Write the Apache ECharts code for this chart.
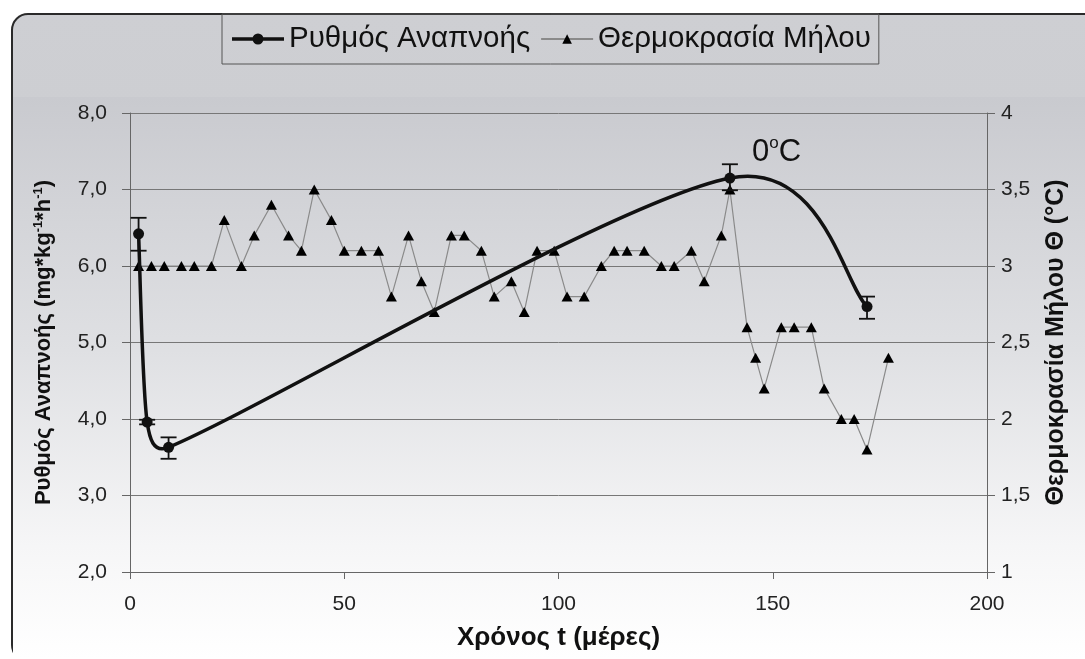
<!DOCTYPE html>
<html>
<head>
<meta charset="utf-8">
<script src="https://cdn.jsdelivr.net/npm/echarts@6/dist/echarts.min.js"></script>
<style>
  html, body { margin: 0; padding: 0; background: #ffffff; }
  #chart { width: 1085px; height: 659px; }
</style>
</head>
<body>
<div id="chart"></div>
<script>
// Respiration rate of apples (left axis), with standard-error bars
const respDays = [2, 4, 9, 140, 172];
const respRate = [6.42, 3.96, 3.63, 7.15, 5.47];
const respLow = [6.20, 3.93, 3.48, 6.99, 5.31];
const respHigh = [6.63, 3.99, 3.76, 7.33, 5.60];

// Apple flesh temperature (right axis)
const tempDays = [2, 5, 8, 12, 15, 19, 22, 26, 29, 33, 37, 40, 43, 47, 50, 54, 58, 61, 65, 68,
  71, 75, 78, 82, 85, 89, 92, 95, 99, 102, 106, 110, 113, 116, 120, 124, 127, 131, 134, 138,
  140, 144, 146, 148, 152, 155, 159, 162, 166, 169, 172, 177];
const tempValues = [3.0, 3.0, 3.0, 3.0, 3.0, 3.0, 3.3, 3.0, 3.2, 3.4, 3.2, 3.1, 3.5, 3.3, 3.1, 3.1, 3.1, 2.8, 3.2, 2.9,
  2.7, 3.2, 3.2, 3.1, 2.8, 2.9, 2.7, 3.1, 3.1, 2.8, 2.8, 3.0, 3.1, 3.1, 3.1, 3.0, 3.0, 3.1, 2.9, 3.2,
  3.5, 2.6, 2.4, 2.2, 2.6, 2.6, 2.6, 2.2, 2.0, 2.0, 1.8, 2.4];

const xTicks = [0, 50, 100, 150, 200];
const leftTicks = [2, 3, 4, 5, 6, 7, 8];
const rightTicks = [1, 1.5, 2, 2.5, 3, 3.5, 4];

const FONT = '"Liberation Sans", Arial, sans-serif';

const respSeriesData = respDays.map((d, i) => [d, respRate[i]]);
const errData = respDays.map((d, i) => [d, respLow[i], respHigh[i]]);
const tempSeriesData = tempDays.map((d, i) => [d, tempValues[i]]);

// Spreadsheet-style smoothed segment: tangent at each point follows its neighbours,
// control arms are 1/6 of the neighbour span, capped at half of the segment length.
function controlArm(a, b, segLen) {
  let dx = (b[0] - a[0]) / 6, dy = (b[1] - a[1]) / 6;
  const len = Math.hypot(dx, dy);
  const cap = segLen / 2;
  if (len > cap && len > 0) { dx *= cap / len; dy *= cap / len; }
  return [dx, dy];
}

function renderSmoothSegment(params, api) {
  const i = params.dataIndex;
  const n = respDays.length;
  if (i >= n - 1) return null;
  const clampIdx = k => Math.max(0, Math.min(n - 1, k));
  const pt = k => api.coord([respDays[clampIdx(k)], respRate[clampIdx(k)]]);
  const p0 = pt(i - 1), p1 = pt(i), p2 = pt(i + 1), p3 = pt(i + 2);
  const segLen = Math.hypot(p2[0] - p1[0], p2[1] - p1[1]);
  const a1 = controlArm(p0, p2, segLen);
  const a2 = controlArm(p1, p3, segLen);
  return {
    type: 'bezierCurve',
    shape: {
      x1: p1[0], y1: p1[1],
      cpx1: p1[0] + a1[0], cpy1: p1[1] + a1[1],
      cpx2: p2[0] - a2[0], cpy2: p2[1] - a2[1],
      x2: p2[0], y2: p2[1]
    },
    style: { stroke: '#111', lineWidth: 3.5, fill: null, lineCap: 'round' }
  };
}

const chart = echarts.init(document.getElementById('chart'), null, { renderer: 'canvas' });

const option = {
  backgroundColor: '#ffffff',
  animation: false,
  graphic: [
    {
      type: 'rect',
      z: -10,
      shape: { x: 12, y: 14, width: 1100, height: 647, r: 16 },
      style: {
        fill: new echarts.graphic.LinearGradient(0, 0, 0, 1, [
          { offset: 0, color: '#cecfd3' },
          { offset: 0.14, color: '#cdced2' },
          { offset: 1, color: '#ffffff' }
        ]),
        stroke: '#2a2a2a',
        lineWidth: 2
      }
    },
    {
      type: 'rect',
      z: -9,
      shape: { x: 13, y: 97, width: 1080, height: 562 },
      style: {
        fill: new echarts.graphic.LinearGradient(0, 0, 0, 1, [
          { offset: 0, color: '#c9cacf' },
          { offset: 0.45, color: '#dfe0e3' },
          { offset: 0.8, color: '#f6f6f7' },
          { offset: 1, color: '#ffffff' }
        ]),
        lineWidth: 0
      }
    },
    {
      type: 'text',
      left: 752,
      top: 135,
      style: {
        text: '{n|0}{o|o}{n|C}',
        rich: {
          n: { fontSize: 31, fontFamily: FONT, fill: '#111', lineHeight: 34 },
          o: { fontSize: 17, fontFamily: FONT, fill: '#111', lineHeight: 14, verticalAlign: 'top' }
        }
      }
    }
  ],
  legend: {
    data: [
      { name: 'Ρυθμός Αναπνοής',
        icon: 'path://M0,5 L52,5 L52,8.5 L0,8.5 Z M20.5,6.75 A5.5,5.5 0 1 1 31.5,6.75 A5.5,5.5 0 1 1 20.5,6.75 Z' },
      { name: 'Θερμοκρασία Μήλου' }
    ],
    left: 222,
    top: 14,
    itemWidth: 52,
    itemHeight: 12,
    itemGap: 10,
    padding: [10, 8, 10, 10],
    borderColor: '#555',
    borderWidth: 1,
    backgroundColor: 'transparent',
    textStyle: { fontSize: 29.5, fontFamily: FONT, color: '#111' }
  },
  grid: { left: 130, right: 98, top: 113, bottom: 87 },
  xAxis: {
    type: 'value',
    min: 0,
    max: 200,
    interval: 50,
    name: 'Χρόνος t (μέρες)',
    nameLocation: 'middle',
    nameGap: 53,
    nameTextStyle: { fontSize: 26, fontWeight: 'bold', fontFamily: FONT, color: '#111' },
    axisLine: { show: true, lineStyle: { color: '#666', width: 1 } },
    axisTick: { show: true, length: 7, lineStyle: { color: '#666' } },
    axisLabel: { margin: 22, fontSize: 21, fontFamily: FONT, color: '#222',
      formatter: v => xTicks.includes(v) ? String(v) : '' },
    splitLine: { show: false }
  },
  yAxis: [
    {
      type: 'value',
      position: 'left',
      min: 2,
      max: 8,
      interval: 1,
      name: '{a|Ρυθμός Αναπνοής (mg*kg}{s|-1}{a|*h}{s|-1}{a|)}',
      nameLocation: 'middle',
      nameRotate: 90,
      nameGap: 74,
      nameTextStyle: {
        rich: {
          a: { fontSize: 22, fontWeight: 'bold', fontFamily: FONT, color: '#111', lineHeight: 24 },
          s: { fontSize: 13, fontWeight: 'bold', fontFamily: FONT, color: '#111', lineHeight: 10, verticalAlign: 'top' }
        }
      },
      axisLine: { show: true, lineStyle: { color: '#666', width: 1 } },
      axisTick: { show: true, length: 8, lineStyle: { color: '#666' } },
      axisLabel: { margin: 23, fontSize: 21, fontFamily: FONT, color: '#222',
        formatter: v => leftTicks.includes(v) ? v.toFixed(1).replace('.', ',') : '' },
      splitLine: { show: true, lineStyle: { color: '#777', width: 1 } }
    },
    {
      type: 'value',
      position: 'right',
      min: 1,
      max: 4,
      interval: 0.5,
      name: 'Θερμοκρασία Μήλου Θ (°C)',
      nameLocation: 'middle',
      nameRotate: 90,
      nameGap: 57,
      nameTextStyle: { fontSize: 25, fontWeight: 'bold', fontFamily: FONT, color: '#111' },
      axisLine: { show: true, lineStyle: { color: '#666', width: 1 } },
      axisTick: { show: true, length: 8, lineStyle: { color: '#666' } },
      axisLabel: { margin: 14, fontSize: 21, fontFamily: FONT, color: '#222',
        formatter: v => rightTicks.includes(v) ? String(v).replace('.', ',') : '' },
      splitLine: { show: false }
    }
  ],
  series: [
    {
      name: 'Θερμοκρασία Μήλου',
      type: 'line',
      yAxisIndex: 1,
      data: tempSeriesData,
      symbol: 'triangle',
      symbolSize: [11, 10],
      itemStyle: { color: '#000' },
      lineStyle: { color: '#8a8a8a', width: 1.2 },
      z: 3
    },
    {
      name: 'respCurve',
      type: 'custom',
      yAxisIndex: 0,
      data: respSeriesData,
      renderItem: renderSmoothSegment,
      z: 4
    },
    {
      name: 'Ρυθμός Αναπνοής',
      type: 'line',
      yAxisIndex: 0,
      data: respSeriesData,
      symbol: 'circle',
      symbolSize: 11,
      itemStyle: { color: '#111' },
      lineStyle: { color: '#111', width: 3.5, opacity: 0 },
      z: 5
    },
    {
      name: 'errors',
      type: 'custom',
      yAxisIndex: 0,
      data: errData,
      z: 6,
      renderItem: function (params, api) {
        const x = api.value(0);
        const lo = api.coord([x, api.value(1)]);
        const hi = api.coord([x, api.value(2)]);
        const hw = 8;
        const style = { stroke: '#111', lineWidth: 1.8 };
        return {
          type: 'group',
          children: [
            { type: 'line', shape: { x1: lo[0], y1: lo[1], x2: hi[0], y2: hi[1] }, style },
            { type: 'line', shape: { x1: hi[0] - hw, y1: hi[1], x2: hi[0] + hw, y2: hi[1] }, style },
            { type: 'line', shape: { x1: lo[0] - hw, y1: lo[1], x2: lo[0] + hw, y2: lo[1] }, style }
          ]
        };
      }
    }
  ]
};

chart.setOption(option);
</script>
</body>
</html>
